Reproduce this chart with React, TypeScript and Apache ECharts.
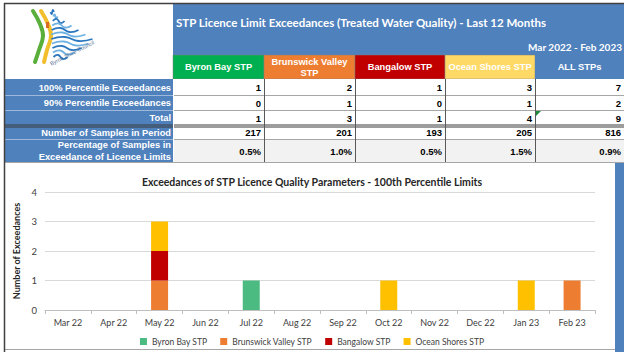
import React, { useEffect, useRef } from "react";
import * as echarts from "echarts";

const stations = ["Byron Bay STP", "Brunswick Valley\nSTP", "Bangalow STP", "Ocean Shores STP", "ALL STPs"];
const headerFills = ["#00B050", "#ED7D31", "#C00000", "#FFD966", "#4F81BD"];
const rowLabels = [
  "100% Percentile Exceedances",
  "90% Percentile Exceedances",
  "Total",
  "Number of Samples in Period",
  "Percentage of Samples in\nExceedance of Licence Limits",
];
const p100 = ["1", "2", "1", "3", "7"];
const p90 = ["0", "1", "0", "1", "2"];
const totals = ["1", "3", "1", "4", "9"];
const samples = ["217", "201", "193", "205", "816"];
const pct = ["0.5%", "1.0%", "0.5%", "1.5%", "0.9%"];
const tableRows = [p100, p90, totals, samples, pct];

const months = ["Mar 22", "Apr 22", "May 22", "Jun 22", "Jul 22", "Aug 22", "Sep 22", "Oct 22", "Nov 22", "Dec 22", "Jan 23", "Feb 23"];
const byronBay = [0, 0, 0, 0, 1, 0, 0, 0, 0, 0, 0, 0];
const brunswickValley = [0, 0, 1, 0, 0, 0, 0, 0, 0, 0, 0, 1];
const bangalow = [0, 0, 1, 0, 0, 0, 0, 0, 0, 0, 0, 0];
const oceanShores = [0, 0, 1, 0, 0, 0, 0, 1, 0, 0, 1, 0];

const BLUE = "#4F81BD";
const ARIAL = "Liberation Sans, Arial, sans-serif";
const CAL = "Lato, sans-serif";

function buildGraphics() {
  const g: any[] = [];
  const colX = [173, 264, 355, 445, 535, 624];
  const rowY = [79, 95, 110, 125, 139, 162];

  // top blue band
  g.push({ type: "rect", shape: { x: 173, y: 4, width: 451, height: 51 }, style: { fill: BLUE } });
  g.push({
    type: "text", x: 176, y: 22,
    style: { text: "STP Licence Limit Exceedances (Treated Water Quality) - Last 12 Months", fill: "#fff", font: `bold 11.5px ${CAL}`, textAlign: "left", textVerticalAlign: "middle" },
  });
  g.push({
    type: "text", x: 622, y: 47,
    style: { text: "Mar 2022 - Feb 2023", fill: "#fff", font: `bold 10px ${CAL}`, textAlign: "right", textVerticalAlign: "middle" },
  });
  // header cells
  for (let i = 0; i < 5; i++) {
    g.push({ type: "rect", shape: { x: colX[i], y: 55, width: colX[i + 1] - colX[i], height: 24 }, style: { fill: headerFills[i], stroke: i < 4 ? "#7f7f7f" : null, lineWidth: 0.5 } });
    g.push({
      type: "text", x: (colX[i] + colX[i + 1]) / 2, y: 67,
      style: { text: stations[i], fill: "#fff", font: `bold 9.3px ${ARIAL}`, textAlign: "center", textVerticalAlign: "middle", lineHeight: 11 },
    });
  }
  // label column
  g.push({ type: "rect", shape: { x: 5, y: 79, width: 168, height: 83 }, style: { fill: BLUE } });
  // data cell backgrounds
  g.push({ type: "rect", shape: { x: 173, y: 79, width: 451, height: 60 }, style: { fill: "#ffffff" } });
  g.push({ type: "rect", shape: { x: 173, y: 139, width: 451, height: 23 }, style: { fill: "#F2F2F2" } });
  for (let r = 0; r < 5; r++) {
    const yc = (rowY[r] + rowY[r + 1]) / 2;
    g.push({
      type: "text", x: 171, y: yc + 0.5,
      style: { text: rowLabels[r], fill: "#fff", font: `bold 9.3px ${ARIAL}`, textAlign: "right", textVerticalAlign: "middle", lineHeight: 12 },
    });
    for (let c = 0; c < 5; c++) {
      g.push({
        type: "text", x: colX[c + 1] - 3, y: yc + 0.5,
        style: { text: tableRows[r][c], fill: "#000", font: `bold 9.5px ${ARIAL}`, textAlign: "right", textVerticalAlign: "middle" },
      });
    }
  }
  // horizontal lines
  for (let r = 1; r < 5; r++) {
    const y = rowY[r] + 0.5;
    if (r === 3) {
      g.push({ type: "line", shape: { x1: 5, y1: y - 0.5, x2: 624, y2: y - 0.5 }, style: { stroke: "#3a3a3a", lineWidth: 1 } });
      g.push({ type: "line", shape: { x1: 5, y1: y + 1.5, x2: 624, y2: y + 1.5 }, style: { stroke: "#3a3a3a", lineWidth: 1 } });
    } else {
      g.push({ type: "line", shape: { x1: 5, y1: y, x2: 173, y2: y }, style: { stroke: "#9DB8DA", lineWidth: 1 } });
      g.push({ type: "line", shape: { x1: 173, y1: y, x2: 624, y2: y }, style: { stroke: "#A6A6A6", lineWidth: 1 } });
    }
  }
  g.push({ type: "line", shape: { x1: 5, y1: 162.5, x2: 624, y2: 162.5 }, style: { stroke: "#A6A6A6", lineWidth: 1 } });
  // vertical lines
  for (let c = 1; c < 5; c++) {
    g.push({ type: "line", shape: { x1: colX[c] + 0.5, y1: 79, x2: colX[c] + 0.5, y2: 162 }, style: { stroke: "#595959", lineWidth: 1 } });
  }
  g.push({ type: "line", shape: { x1: 173.5, y1: 79, x2: 173.5, y2: 162 }, style: { stroke: "#ffffff", lineWidth: 1 } });
  // error indicator triangle
  g.push({ type: "polygon", shape: { points: [[536, 111], [541, 111], [536, 116]] }, style: { fill: "#1E8A3A" } });

  // chart frame and right strip
  g.push({ type: "rect", shape: { x: 615, y: 163, width: 9, height: 189 }, style: { fill: BLUE } });
  g.push({ type: "line", shape: { x1: 5, y1: 349.5, x2: 615, y2: 349.5 }, style: { stroke: "#A6A6A6", lineWidth: 1 } });

  // outer borders
  g.push({ type: "line", shape: { x1: 4, y1: 3.5, x2: 624, y2: 3.5 }, style: { stroke: "#404040", lineWidth: 1.5 } });
  g.push({ type: "line", shape: { x1: 4.5, y1: 3, x2: 4.5, y2: 352 }, style: { stroke: "#404040", lineWidth: 1.5 } });

  // logo
  g.push({ type: "polyline", shape: { points: [[33, 11], [40, 24], [43, 36], [39, 50], [35, 62]], smooth: 0.4 }, style: { stroke: "#5AAE3A", lineWidth: 4, fill: null, lineCap: "round" } });
  g.push({ type: "polyline", shape: { points: [[41, 11], [48, 24], [51, 36], [47, 50], [44, 62]], smooth: 0.4 }, style: { stroke: "#F2BE2C", lineWidth: 4, fill: null, lineCap: "round" } });
  g.push({ type: "rect", shape: { x: 46, y: 22, width: 3, height: 6 }, style: { fill: "#D96B1E" } });
  const waveYs = [12, 16.5, 21, 25.5, 30, 34.5, 39, 43.5, 48, 52.5, 57];
  waveYs.forEach((y, i) => {
    const xs = 51 + Math.abs(y - 36) * 0.12;
    const xe = 94 - Math.abs(y - 40) * 1.55;
    const w = xe - xs;
    g.push({
      type: "polyline",
      shape: { points: [[xs, y], [xs + w * 0.33, y - 2], [xs + w * 0.66, y + 2], [xe, y]], smooth: 0.5 },
      style: { stroke: i % 2 ? "#6FB1E2" : "#2C77BE", lineWidth: 1.8, fill: null },
    });
  });
  g.push({
    type: "text", x: 72, y: 53, rotation: 0.47,
    style: { text: "Byron Shire Council", fill: "#5a7394", font: `5.5px ${ARIAL}`, textAlign: "center", textVerticalAlign: "middle" },
  });
  return g;
}

export default function App() {
  const ref = useRef<HTMLDivElement>(null);
  useEffect(() => {
    if (!ref.current) return;
    const chart = echarts.init(ref.current, null, { renderer: "svg" });
    const mk = (name: string, data: number[], color: string) => ({
      name, type: "bar", stack: "total", data: data.map((v) => (v === 0 ? null : v)),
      barWidth: 17, itemStyle: { color },
    });
    chart.setOption({
      animation: false,
      backgroundColor: "#ffffff",
      title: {
        text: "Exceedances of STP Licence Quality Parameters - 100th Percentile Limits",
        left: "center", top: 171,
        textStyle: { fontFamily: CAL, fontWeight: "bold", fontSize: 10.5, color: "#262626" },
      },
      legend: {
        left: "center", top: 332, itemWidth: 7, itemHeight: 7, itemGap: 13, icon: "rect",
        textStyle: { fontFamily: CAL, fontSize: 8.5, color: "#404040" },
        data: ["Byron Bay STP", "Brunswick Valley STP", "Bangalow STP", "Ocean Shores STP"],
      },
      grid: { left: 45, top: 192, width: 550, height: 118 },
      xAxis: {
        type: "category", data: months,
        axisLine: { lineStyle: { color: "#BFBFBF" } },
        axisTick: { show: true, length: 4, lineStyle: { color: "#BFBFBF" } },
        axisLabel: { fontFamily: CAL, fontSize: 9, color: "#404040", margin: 8 },
      },
      yAxis: {
        type: "value", min: 0, max: 4, interval: 1,
        name: "Number of Exceedances", nameLocation: "middle", nameRotate: 90, nameGap: 21,
        nameTextStyle: { fontFamily: CAL, fontWeight: "bold", fontSize: 9, color: "#262626" },
        axisLabel: { fontFamily: CAL, fontSize: 9.5, color: "#404040", margin: 8 },
        splitLine: { lineStyle: { color: "#D9D9D9" } },
      },
      series: [
        mk("Byron Bay STP", byronBay, "#4CBB82"),
        mk("Brunswick Valley STP", brunswickValley, "#ED7D31"),
        mk("Bangalow STP", bangalow, "#C00000"),
        mk("Ocean Shores STP", oceanShores, "#FFC000"),
      ],
      graphic: { elements: buildGraphics() },
    });
    return () => chart.dispose();
  }, []);
  return <div ref={ref} style={{ position: "fixed", left: 0, top: 0, width: 624, height: 352 }} />;
}
